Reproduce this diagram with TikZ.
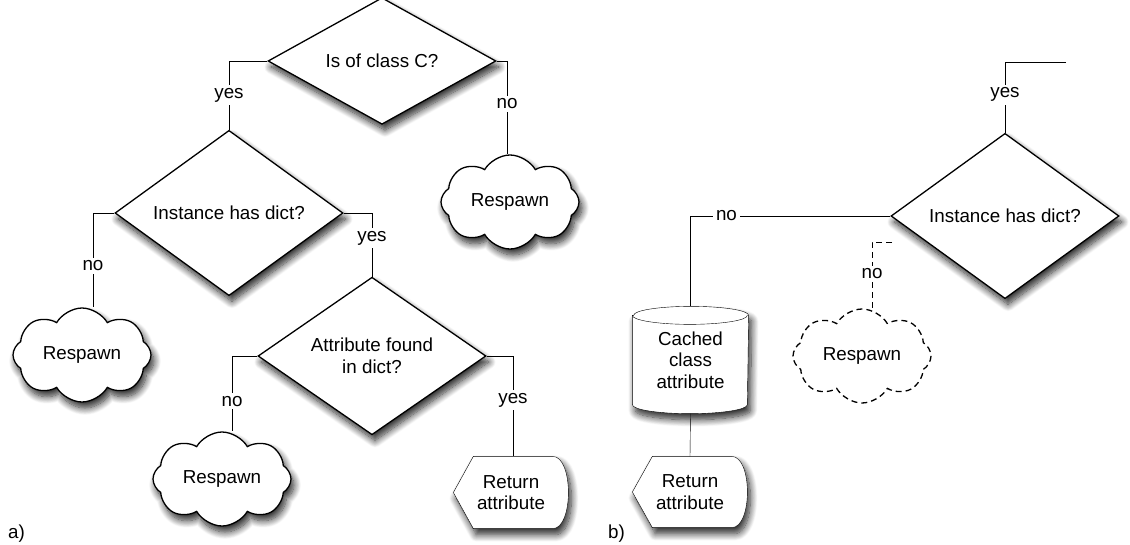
\documentclass[tikz,border=0pt]{standalone}
\usepackage{fontspec}
\setmainfont{Liberation Sans}
\usetikzlibrary{shapes.geometric,shapes.symbols,shadows.blur}
\pgfdeclarelayer{background}
\pgfsetlayers{background,main}

\tikzset{
  shade/.style={blur shadow={shadow xshift=3pt, shadow yshift=-6pt,
      shadow blur radius=7pt, shadow blur steps=12, shadow opacity=85}},
  decision/.style={diamond, draw, fill=white, shade, minimum width=228pt,
      minimum height=107pt, inner sep=0pt, align=center},
  respawnbase/.style={cloud, cloud puffs=8, cloud puff arc=120,
      cloud ignores aspect, draw, fill=white, minimum width=138pt,
      minimum height=94pt, inner sep=0pt},
  respawn/.style={respawnbase, shade},
  frame/.style={rectangle, inner sep=0pt, align=center},
  outline/.style={draw, fill=white, shade},
  lbl/.style={fill=white, inner sep=3pt},
  dashlink/.style={dash pattern=on 6pt off 4pt}
}

\begin{document}
\begin{tikzpicture}[x=1pt, y=-1pt, line width=1.3pt,
    font=\fontsize{18.8}{21.5}\selectfont]
\useasboundingbox (0,0) rectangle (1130,544);

% ---------- panel a ----------
\node[decision] (d1) at (382,61) {Is of class C?};
\node[decision] (d2) at (229,213) {Instance has dict?};
\node[decision] (d3) at (372,356) {Attribute found\\in dict?};
\node[respawn] (c1) at (510,202) {Respawn};
\node[respawn] (c2) at (82,355) {Respawn};
\node[respawn] (c3) at (222,479) {Respawn};
\node[frame, minimum width=114pt, minimum height=71pt] (r1) at (511,492.5) {Return\\attribute};

% ---------- panel b ----------
\coordinate (entry) at (1066,62);
\coordinate (dash) at (892,242);
\node[decision] (d4) at (1005,216) {Instance has dict?};
\node[frame, minimum width=115pt, minimum height=106pt] (cyl) at (690.5,360) {Cached\\class\\attribute};
\node[frame, minimum width=114pt, minimum height=70pt] (r2) at (690,492) {Return\\attribute};
\node[respawnbase, dashlink] (c4) at (862,356) {Respawn};

% outlines of the store and the display shapes
\begin{pgfonlayer}{background}
  \path[outline] (r1.west) -- ([xshift=20pt]r1.north west)
    -- ([xshift=-16pt]r1.north east)
    .. controls ([xshift=5pt]r1.north east) and ([xshift=5pt]r1.south east)
    .. ([xshift=-16pt]r1.south east) -- ([xshift=20pt]r1.south west) -- cycle;
  \path[outline] (r2.west) -- ([xshift=20pt]r2.north west)
    -- ([xshift=-16pt]r2.north east)
    .. controls ([xshift=5pt]r2.north east) and ([xshift=5pt]r2.south east)
    .. ([xshift=-16pt]r2.south east) -- ([xshift=20pt]r2.south west) -- cycle;
  \path[outline] ([yshift=-9pt]cyl.north west) -- ([yshift=9pt]cyl.south west)
    arc[start angle=180, end angle=360, x radius=57.5pt, y radius=9pt]
    -- ([yshift=-9pt]cyl.north east)
    arc[start angle=0, end angle=180, x radius=57.5pt, y radius=9pt] -- cycle;
  \draw ([yshift=-9pt]cyl.north west)
    arc[start angle=180, end angle=360, x radius=57.5pt, y radius=9pt];
\end{pgfonlayer}

% ---------- connectors ----------
\draw (d1.west) -| node[lbl, pos=0.75] {yes} (d2.north);
\draw (d1.east) -| node[lbl, pos=0.73] {no} ([xshift=-3pt]c1.north);
\draw (d2.west) -| node[lbl, pos=0.78] {no} ([xshift=11pt]c2.north);
\draw (d2.east) -| node[lbl, pos=0.7] {yes} (d3.north);
\draw (d3.west) -| node[lbl, pos=0.8] {no} ([xshift=10pt]c3.north);
\draw (d3.east) -| node[lbl, pos=0.72] {yes} ([xshift=2pt]r1.north);

\draw (entry) -| node[lbl, pos=0.73] {yes} (d4.north);
\draw (d4.west) -| node[lbl, pos=0.41] {no} (cyl.north);
\draw (cyl.south) -- (r2.north);
\draw[dashlink] (dash) -| node[lbl, pos=0.74] {no} ([xshift=10pt]c4.north);

% panel captions
\node[anchor=base west, inner sep=0pt] (capa) at (8,538) {a)};
\node[anchor=base west, inner sep=0pt] (capb) at (608,538) {b)};
\end{tikzpicture}
\end{document}
